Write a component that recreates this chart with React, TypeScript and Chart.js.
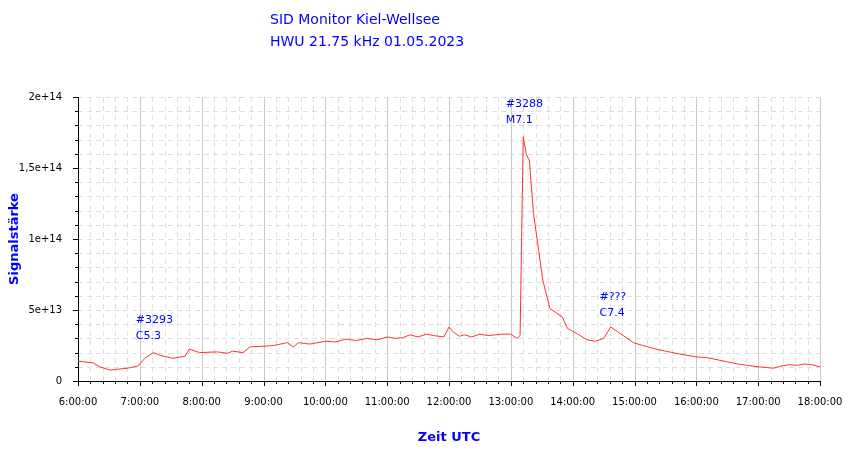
import React, { useEffect, useRef } from "react";
import { Chart, registerables } from "chart.js";
Chart.register(...registerables);

const times = ["06:00","06:15","06:21","06:31","06:48","06:58","07:05","07:13","07:20","07:32","07:44","07:48","07:58","08:15","08:25","08:30","08:40","08:47","09:00","09:10","09:23","09:29","09:34","09:45","10:00","10:10","10:20","10:30","10:40","10:50","11:00","11:08","11:15","11:22","11:30","11:38","11:45","11:55","12:00","12:05","12:10","12:15","12:22","12:30","12:38","12:45","12:52","13:00","13:06","13:09","13:12","13:15","13:18","13:22","13:27","13:31","13:38","13:44","13:50","13:55","14:05","14:14","14:22","14:30","14:37","14:43","14:49","14:59","15:08","15:18","15:30","15:44","16:00","16:10","16:20","16:30","16:40","16:50","17:00","17:08","17:15","17:22","17:30","17:38","17:45","17:52","18:00"];
const values = [1.4,1.27,1.0,0.77,0.9,1.05,1.6,2.0,1.8,1.6,1.75,2.25,2.0,2.05,1.95,2.1,2.0,2.4,2.45,2.5,2.7,2.4,2.7,2.6,2.8,2.75,2.95,2.85,3.0,2.9,3.1,3.0,3.05,3.25,3.1,3.3,3.2,3.1,3.8,3.4,3.15,3.25,3.1,3.3,3.2,3.25,3.3,3.3,3.0,3.2,17.2,16.0,15.5,11.8,9.2,7.1,5.1,4.8,4.5,3.7,3.3,2.9,2.8,3.0,3.8,3.5,3.2,2.7,2.5,2.3,2.1,1.9,1.7,1.65,1.5,1.35,1.2,1.1,1.0,0.95,0.9,1.05,1.15,1.1,1.2,1.15,1.0];
const labelTimes = ["06:56","12:55","14:26"];
const labelLine1 = ["#3293","#3288","#???"];
const labelLine2 = ["C5.3","M7.1","C7.4"];
const labelTopValues = [4.7, 19.9, 6.3];

const toMin = (t: string) => { const [h, m] = t.split(":").map(Number); return h * 60 + m; };
const fmtY = (v: number) => {
  const map: Record<number, string> = { 0: "0", 5: "5e+13", 10: "1e+14", 15: "1,5e+14", 20: "2e+14" };
  const k = Math.round(v / 1e13);
  return v % 5e13 === 0 ? map[k] : "";
};

export default function App() {
  const ref = useRef<HTMLCanvasElement>(null);
  useEffect(() => {
    const font = "DejaVu Sans";
    const gridPlugin = {
      id: "gridp",
      beforeDatasetsDraw(c: any) {
        const { ctx, chartArea: a, scales } = c;
        const xs = scales.x, ys = scales.y;
        ctx.save();
        ctx.lineWidth = 1;
        for (let m = 360; m <= 1080; m += 12) {
          const x = Math.round(xs.getPixelForValue(m)) + 0.5;
          ctx.beginPath();
          if (m % 60 === 0) { ctx.setLineDash([]); ctx.strokeStyle = "#c8c8c8"; }
          else { ctx.setLineDash([5, 4]); ctx.strokeStyle = "#dedede"; }
          ctx.moveTo(x, a.top); ctx.lineTo(x, a.bottom); ctx.stroke();
          ctx.setLineDash([]); ctx.strokeStyle = "#000";
          ctx.beginPath(); ctx.moveTo(x, a.bottom); ctx.lineTo(x, a.bottom + (m % 60 === 0 ? 5 : 3)); ctx.stroke();
        }
        for (let v = 0; v <= 2e14; v += 1e13) {
          const y = Math.round(ys.getPixelForValue(v)) + 0.5;
          if (v > 0) {
            ctx.setLineDash([5, 4]); ctx.strokeStyle = "#dedede";
            ctx.beginPath(); ctx.moveTo(a.left, y); ctx.lineTo(a.right, y); ctx.stroke();
          }
          ctx.setLineDash([]); ctx.strokeStyle = "#000";
          ctx.beginPath(); ctx.moveTo(a.left, y); ctx.lineTo(a.left - (v % 5e13 === 0 ? 5 : 3), y); ctx.stroke();
        }
        ctx.strokeStyle = "#000";
        ctx.beginPath();
        ctx.moveTo(a.left + 0.5, a.top); ctx.lineTo(a.left + 0.5, a.bottom + 0.5); ctx.lineTo(a.right, a.bottom + 0.5);
        ctx.stroke();
        ctx.restore();
      },
      afterDraw(c: any) {
        const { ctx, scales } = c;
        ctx.save();
        ctx.fillStyle = "#0000ff";
        ctx.font = `11px "${font}"`;
        ctx.textBaseline = "top";
        labelTimes.forEach((t, i) => {
          const x = scales.x.getPixelForValue(toMin(t));
          const y = scales.y.getPixelForValue(labelTopValues[i] * 1e13);
          ctx.fillText(labelLine1[i], x, y);
          ctx.fillText(labelLine2[i], x, y + 16);
        });
        ctx.font = `14px "${font}"`;
        ctx.fillText("SID Monitor Kiel-Wellsee", 270, 13);
        ctx.fillText("HWU 21.75 kHz 01.05.2023", 270, 35);
        ctx.restore();
      },
    };
    const chart = new Chart(ref.current!, {
      type: "line",
      data: {
        datasets: [{
          data: times.map((t, i) => ({ x: toMin(t), y: values[i] * 1e13 })),
          borderColor: "#ff3333", borderWidth: 1, pointRadius: 0, tension: 0,
        }],
      },
      plugins: [gridPlugin],
      options: {
        animation: false, responsive: false, devicePixelRatio: 1,
        layout: { padding: { top: 97, right: 30, left: 3, bottom: 10 } },
        plugins: { legend: { display: false }, tooltip: { enabled: false } },
        scales: {
          x: {
            type: "linear", min: 360, max: 1080,
            grid: { display: false }, border: { display: false },
            afterFit: (s: any) => { s.height = 68; },
            ticks: {
              stepSize: 12, autoSkip: false, maxRotation: 0, padding: 7, color: "#000",
              font: { family: font, size: 10 },
              callback: (v: any) => (v % 60 === 0 ? `${v / 60}:00:00` : ""),
            },
            title: { display: true, text: "Zeit UTC", color: "#0000ff", font: { family: font, size: 13, weight: "bold" }, padding: { top: 13 } },
          },
          y: {
            min: 0, max: 2e14,
            grid: { display: false }, border: { display: false },
            afterFit: (s: any) => { s.width = 75; },
            ticks: {
              stepSize: 1e13, autoSkip: false, padding: 8, color: "#000",
              font: { family: font, size: 10 },
              callback: (v: any) => fmtY(v),
            },
            title: { display: true, text: "Signalstärke", color: "#0000ff", font: { family: font, size: 13, weight: "bold" }, padding: { bottom: 0 } },
          },
        },
      },
    });
    return () => chart.destroy();
  }, []);
  return (
    <div style={{ position: "absolute", left: 0, top: 0, width: 850, height: 459, background: "#fff" }}>
      <canvas ref={ref} width={850} height={459} />
    </div>
  );
}
